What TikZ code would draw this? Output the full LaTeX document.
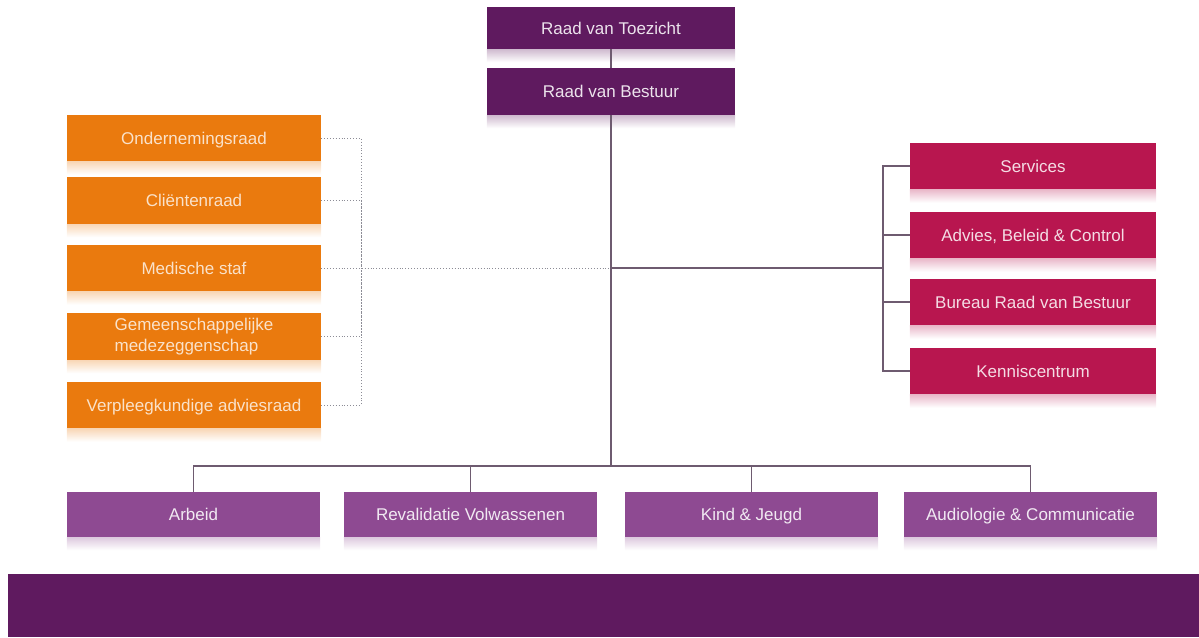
\documentclass[tikz,border=0pt]{standalone}
\usepackage{fontspec}
\setmainfont{Liberation Sans}
\definecolor{bestuur}{HTML}{5F1A5F}
\definecolor{oranje}{HTML}{EA7A0E}
\definecolor{karmijn}{HTML}{B8164F}
\definecolor{lila}{HTML}{8E4A92}
\definecolor{lijn}{HTML}{6E5B70}
\definecolor{stip}{HTML}{8C8C96}
\tikzset{
  orgbox/.style={rectangle, inner sep=2pt, align=center,
    text height=12.2pt, text depth=0pt,
    font=\fontsize{17}{21}\selectfont},
  topbox/.style={orgbox, fill=bestuur, text=white!88!bestuur, minimum width=248pt},
  raadbox/.style={orgbox, fill=oranje, text=white!78!oranje, minimum width=254pt, minimum height=47pt},
  staffbox/.style={orgbox, fill=karmijn, text=white!85!karmijn, minimum width=246pt, minimum height=47pt},
  unitbox/.style={orgbox, fill=lila, text=white!88!lila, minimum width=253pt, minimum height=45pt},
  link/.style={draw=lijn, line width=1.3pt},
  dotlink/.style={draw=stip, line width=0.9pt, dotted}
}
% faded reflection under a box
\newcommand{\boxshadow}[2]{%
  \shade[top color=#2!30!white, bottom color=white]
    (#1.south west) rectangle ([yshift=-13pt]#1.south east);}
\begin{document}
\begin{tikzpicture}[x=1pt,y=-1pt]
  \useasboundingbox (0,0) rectangle (1199,637);
  % boards at the top
  \node[topbox, minimum height=42pt] (rvt) at (611,28) {Raad van Toezicht};
  \node[topbox, minimum height=47pt] (rvb) at (611,91.5) {Raad van Bestuur};
  % councils, left
  \node[raadbox] (or)   at (194,138)   {Ondernemingsraad};
  \node[raadbox] (cr)   at (194,200.5) {Cliëntenraad};
  \node[raadbox] (med)  at (194,268)   {Medische staf};
  \node[raadbox, align=left, text height={}, text depth={}] (gmz) at (194,336.5) {Gemeenschappelijke\\medezeggenschap};
  \node[raadbox] (var)  at (194,405)   {Verpleegkundige adviesraad};
  % staff, right
  \node[staffbox] (serv)  at (1033,166) {Services};
  \node[staffbox] (abc)   at (1033,235) {Advies, Beleid \& Control};
  \node[staffbox] (brvb)  at (1033,302) {Bureau Raad van Bestuur};
  \node[staffbox] (kennis) at (1033,371) {Kenniscentrum};
  % divisions, bottom
  \node[unitbox] (arbeid) at (193.5,514.5)  {Arbeid};
  \node[unitbox] (reval)  at (470.5,514.5)  {Revalidatie Volwassenen};
  \node[unitbox] (kind)   at (751.5,514.5)  {Kind \& Jeugd};
  \node[unitbox] (audio)  at (1030.5,514.5) {Audiologie \& Communicatie};
  \foreach \n/\c in {rvt/bestuur, rvb/bestuur, or/oranje, cr/oranje, med/oranje,
      gmz/oranje, var/oranje, serv/karmijn, abc/karmijn, brvb/karmijn,
      kennis/karmijn, arbeid/lila, reval/lila, kind/lila, audio/lila}
    \boxshadow{\n}{\c}
  % connectors
  \coordinate (mid)   at (611,268);
  \coordinate (spine) at (611,466);
  \coordinate (lbar)  at (361,268);
  \coordinate (rbar)  at (883,268);
  \draw[link] (rvt) -- (rvb);
  \draw[link] (rvb.south) -- (spine);
  \foreach \n in {arbeid, reval, kind, audio}
    \draw[link] (\n.north) |- (spine);
  \foreach \n in {serv, abc, brvb, kennis}
    \draw[link] (\n.west) -| (rbar);
  \draw[link] (mid) -- (rbar);
  \foreach \n in {or, cr, gmz, var}
    \draw[dotlink] (\n.east) -| (lbar);
  \draw[dotlink] (med.east) -- (mid);
  % band at the bottom
  \fill[bestuur] (8,574) rectangle (1199,637);
\end{tikzpicture}
\end{document}
